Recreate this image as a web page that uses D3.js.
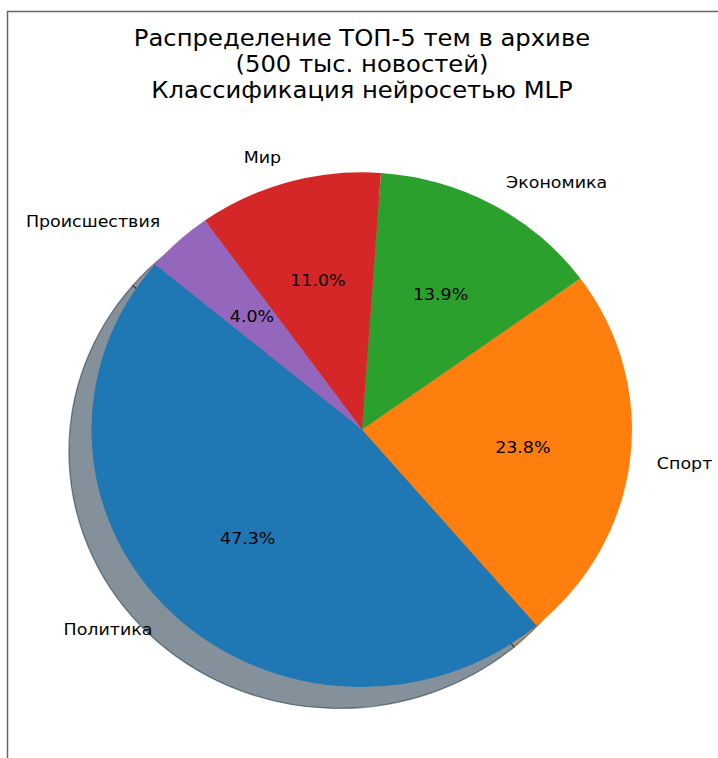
<!DOCTYPE html>
<html>
<head>
<meta charset="utf-8">
<script src="https://cdn.jsdelivr.net/npm/d3@7/dist/d3.min.js"></script>
<style>
  html, body { margin: 0; padding: 0; background: #fff; }
  text { font-family: "DejaVu Sans", sans-serif; fill: #000; }
</style>
</head>
<body>
<svg id="chart" width="718" height="758"></svg>
<script>
const categories = ["Политика", "Спорт", "Экономика", "Мир", "Происшествия"];
const values = [47.3, 23.8, 13.9, 11.0, 4.0];
const colors = ["#1f77b4", "#ff7f0e", "#2ca02c", "#d62728", "#9467bd"];
const titleLines = ["Распределение ТОП-5 тем в архиве", "(500 тыс. новостей)", "Классификация нейросетью MLP"];
const startAngleDeg = 140;

const W = 718, H = 758;
const cx = 362, cy = 429.4, rx = 270, ry = 257;
const stretch = rx / ry;
const shadowOff = 0.0833; // in radius units

const svg = d3.select("#chart");

// frame
svg.append("path")
  .attr("d", `M${W},11.5 H7.5 V${H}`)
  .attr("fill", "none").attr("stroke", "#666").attr("stroke-width", 1.5);

// title
titleLines.forEach((t, i) => {
  svg.append("text")
    .attr("transform", `translate(362,${45.5 + i * 26.2}) scale(${stretch},1)`)
    .attr("text-anchor", "middle").style("font-size", "23.1px")
    .text(t);
});

const toRad = d => d * Math.PI / 180;
const pie = d3.pie().sort(null).value(d => d)
  .startAngle(toRad(90 - startAngleDeg))
  .endAngle(toRad(90 - startAngleDeg - 360));
const arcs = pie(values);
const arc = d3.arc().innerRadius(0).outerRadius(1);

const sx = d3.scaleLinear().domain([-1, 1]).range([cx - rx, cx + rx]);
const sy = d3.scaleLinear().domain([-1, 1]).range([cy - ry, cy + ry]);

// shadows
const shadowG = svg.append("g")
  .attr("transform", `translate(${sx(-shadowOff)},${sy(shadowOff)}) scale(${rx},${ry})`);
shadowG.selectAll("path").data(arcs).enter().append("path")
  .attr("d", arc)
  .attr("fill", (d, i) => { const c = d3.rgb(colors[i]); return d3.rgb(c.r * 0.3, c.g * 0.3, c.b * 0.3); })
  .attr("fill-opacity", 0.5)
  .attr("stroke", (d, i) => { const c = d3.rgb(colors[i]); return d3.rgb(c.r * 0.3, c.g * 0.3, c.b * 0.3); })
  .attr("stroke-opacity", 0.5)
  .attr("stroke-width", 1.3)
  .attr("vector-effect", "non-scaling-stroke");

// wedges
const pieG = svg.append("g").attr("transform", `translate(${cx},${cy}) scale(${rx},${ry})`);
pieG.selectAll("path").data(arcs).enter().append("path")
  .attr("d", arc)
  .attr("fill", (d, i) => colors[i]);

// labels
const labelArc = d3.arc().innerRadius(1.1).outerRadius(1.1);
const pctArc = d3.arc().innerRadius(0.6).outerRadius(0.6);

svg.append("g").selectAll("text").data(arcs).enter().append("text")
  .attr("transform", d => `translate(${sx(labelArc.centroid(d)[0])},${sy(labelArc.centroid(d)[1])}) scale(${stretch},1)`)
  .attr("dy", "0.32em")
  .attr("text-anchor", d => labelArc.centroid(d)[0] < 0 ? "end" : "start")
  .style("font-size", "16.6px")
  .text((d, i) => categories[i]);

svg.append("g").selectAll("text").data(arcs).enter().append("text")
  .attr("transform", d => `translate(${sx(pctArc.centroid(d)[0])},${sy(pctArc.centroid(d)[1])}) scale(${stretch},1)`)
  .attr("dy", "0.32em")
  .attr("text-anchor", "middle")
  .style("font-size", "16.6px")
  .text(d => d.value.toFixed(1) + "%");
</script>
</body>
</html>
